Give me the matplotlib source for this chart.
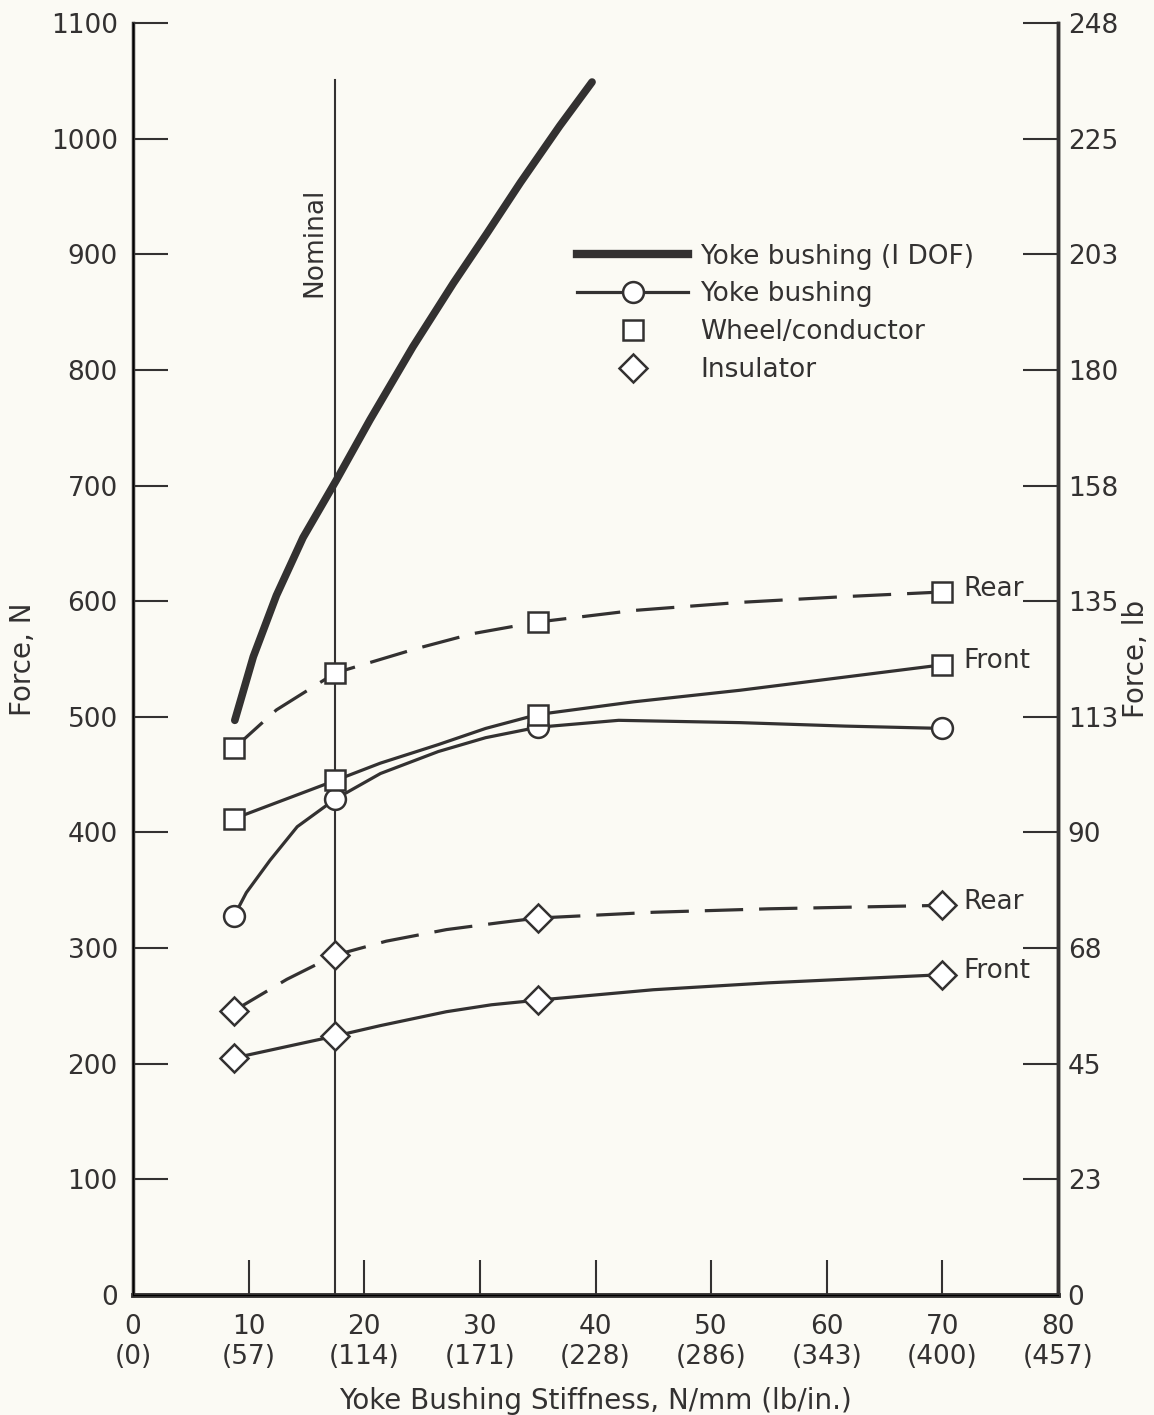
import matplotlib.pyplot as plt
from matplotlib.lines import Line2D

plt.rcParams['font.family'] = ['DejaVu Sans']

ink = '#333131'
paper = '#fbfaf4'

# measured points (N/mm, N)
stiff = [8.75, 17.5, 35, 70]

# yoke bushing, 1 DOF (thick curve)
dof_x = [8.8, 10.4, 12.4, 14.7, 17.6, 20.5, 24.2, 27.7, 30.6, 33.5, 36.9, 39.7]
dof_y = [497, 552, 605, 655, 705, 757, 820, 875, 918, 962, 1011, 1049]

# yoke bushing (circles) and its drawn curve
yoke_pts = [328, 429, 491, 490]
yoke_cx = [8.75, 9.8, 11.85, 14.2, 17.5, 21.4, 26.4, 30.5, 35, 42, 52.5, 61.6, 70]
yoke_cy = [328, 348, 376, 405, 429, 451, 470, 482, 491, 497, 495, 492, 490]

# wheel/conductor rear (dashed) and front
wheel_rear = [473, 538, 582, 608]
wr_cx = [8.75, 12.4, 17.5, 24.5, 29.4, 35, 43.3, 52.5, 61.6, 70]
wr_cy = [473, 506, 538, 559, 572, 582, 592, 599, 604, 608]
wheel_front = [412, 445, 502, 545]
wf_cx = [8.75, 17.5, 21.4, 26.4, 30.5, 35, 43.3, 52.5, 70]
wf_cy = [412, 445, 460, 476, 490, 502, 513, 523, 545]

# insulator rear (dashed) and front
ins_rear = [246, 294, 326, 337]
ir_cx = [8.75, 13.3, 17.5, 21.9, 27.1, 31.7, 35, 45, 55, 70]
ir_cy = [246, 273, 294, 306, 316, 322, 326, 331, 334, 337]
ins_front = [205, 224, 255, 277]
if_cx = [8.75, 17.5, 21.4, 27.1, 31, 35, 45, 55, 70]
if_cy = [205, 224, 233, 245, 251, 255, 264, 270, 277]

nominal = 17.5

x_ticks = [0, 10, 20, 30, 40, 50, 60, 70, 80]
x_labels = ['0\n(0)', '10\n(57)', '20\n(114)', '30\n(171)', '40\n(228)',
            '50\n(286)', '60\n(343)', '70\n(400)', '80\n(457)']
y_ticks = [0, 100, 200, 300, 400, 500, 600, 700, 800, 900, 1000, 1100]
y_right = ['0', '23', '45', '68', '90', '113', '135', '158', '180', '203', '225', '248']

fig = plt.figure(figsize=(11.54, 14.15), dpi=100, facecolor=paper)
ax = fig.add_axes([0.1153, 0.0848, 0.8015, 0.8989], facecolor=paper)

lw = 2.3
dash = (0, (12, 5))

ax.axvline(nominal, ymax=1051 / 1100, color=ink, lw=1.5)
ax.text(nominal - 1.8, 910, 'Nominal', rotation=90, ha='center', va='center',
        fontsize=19, color=ink)

ax.plot(dof_x, dof_y, color=ink, lw=5.5, solid_capstyle='round', solid_joinstyle='round')

ax.plot(yoke_cx, yoke_cy, color=ink, lw=lw, solid_joinstyle='round')
ax.plot(wr_cx, wr_cy, color=ink, lw=lw, linestyle=dash)
ax.plot(wf_cx, wf_cy, color=ink, lw=lw, solid_joinstyle='round')
ax.plot(ir_cx, ir_cy, color=ink, lw=lw, linestyle=dash)
ax.plot(if_cx, if_cy, color=ink, lw=lw, solid_joinstyle='round')

mk = dict(linestyle='none', markerfacecolor='white', markeredgecolor=ink, markeredgewidth=1.8)
ax.plot(stiff, yoke_pts, marker='o', markersize=15, **mk)
ax.plot(stiff, wheel_rear, marker='s', markersize=14, **mk)
ax.plot(stiff, wheel_front, marker='s', markersize=14, **mk)
ax.plot(stiff, ins_rear, marker='D', markersize=14, **mk)
ax.plot(stiff, ins_front, marker='D', markersize=14, **mk)

for val, name in [(wheel_rear[-1], 'Rear'), (wheel_front[-1], 'Front'),
                  (ins_rear[-1], 'Rear'), (ins_front[-1], 'Front')]:
    ax.text(71.8, val + 3, name, ha='left', va='center', fontsize=19, color=ink)

handles = [
    Line2D([], [], color=ink, lw=6),
    Line2D([], [], color=ink, lw=lw, marker='o', markersize=15,
           markerfacecolor='white', markeredgecolor=ink, markeredgewidth=1.8),
    Line2D([], [], linestyle='none', marker='s', markersize=14,
           markerfacecolor='white', markeredgecolor=ink, markeredgewidth=1.8),
    Line2D([], [], linestyle='none', marker='D', markersize=14,
           markerfacecolor='white', markeredgecolor=ink, markeredgewidth=1.8),
]
labels = ['Yoke bushing (I DOF)', 'Yoke bushing', 'Wheel/conductor', 'Insulator']
leg = ax.legend(handles, labels, loc='upper left', bbox_to_anchor=(0.466, 0.837),
                frameon=False, fontsize=19, handlelength=4.2, handletextpad=0.45,
                labelspacing=0.45, borderpad=0)
for t in leg.get_texts():
    t.set_color(ink)

ax.set_xlim(0, 80)
ax.set_ylim(0, 1100)
ax.set_xticks(x_ticks)
ax.set_xticklabels(x_labels)
ax.set_yticks(y_ticks)
ax.set_yticklabels([str(v) for v in y_ticks])
ax.tick_params(axis='both', direction='in', length=25, width=1.5, colors=ink,
               labelsize=19)
ax.tick_params(axis='y', pad=11)
ax.tick_params(axis='x', pad=14)

ax.spines['top'].set_visible(False)
ax.spines['bottom'].set_linewidth(3.5)
ax.spines['left'].set_linewidth(2.5)
ax.spines['right'].set_linewidth(2.5)
for s in ax.spines.values():
    s.set_color(ink)

ax2 = ax.twinx()
ax2.set_ylim(0, 1100)
ax2.set_yticks(y_ticks)
ax2.set_yticklabels(y_right)
ax2.tick_params(axis='y', direction='in', length=25, width=1.5, colors=ink,
                labelsize=19, pad=7)
ax2.spines['top'].set_visible(False)
ax2.spines['right'].set_linewidth(2.5)
ax2.spines['right'].set_color(ink)

ax.set_xlabel('Yoke Bushing Stiffness, N/mm (lb/in.)', fontsize=20, color=ink, labelpad=12)
ax.set_ylabel('Force, N', fontsize=20, color=ink, labelpad=10)
ax2.set_ylabel('Force, lb', fontsize=20, color=ink, labelpad=3)

fig.savefig('out.png', dpi=100, facecolor=paper)
